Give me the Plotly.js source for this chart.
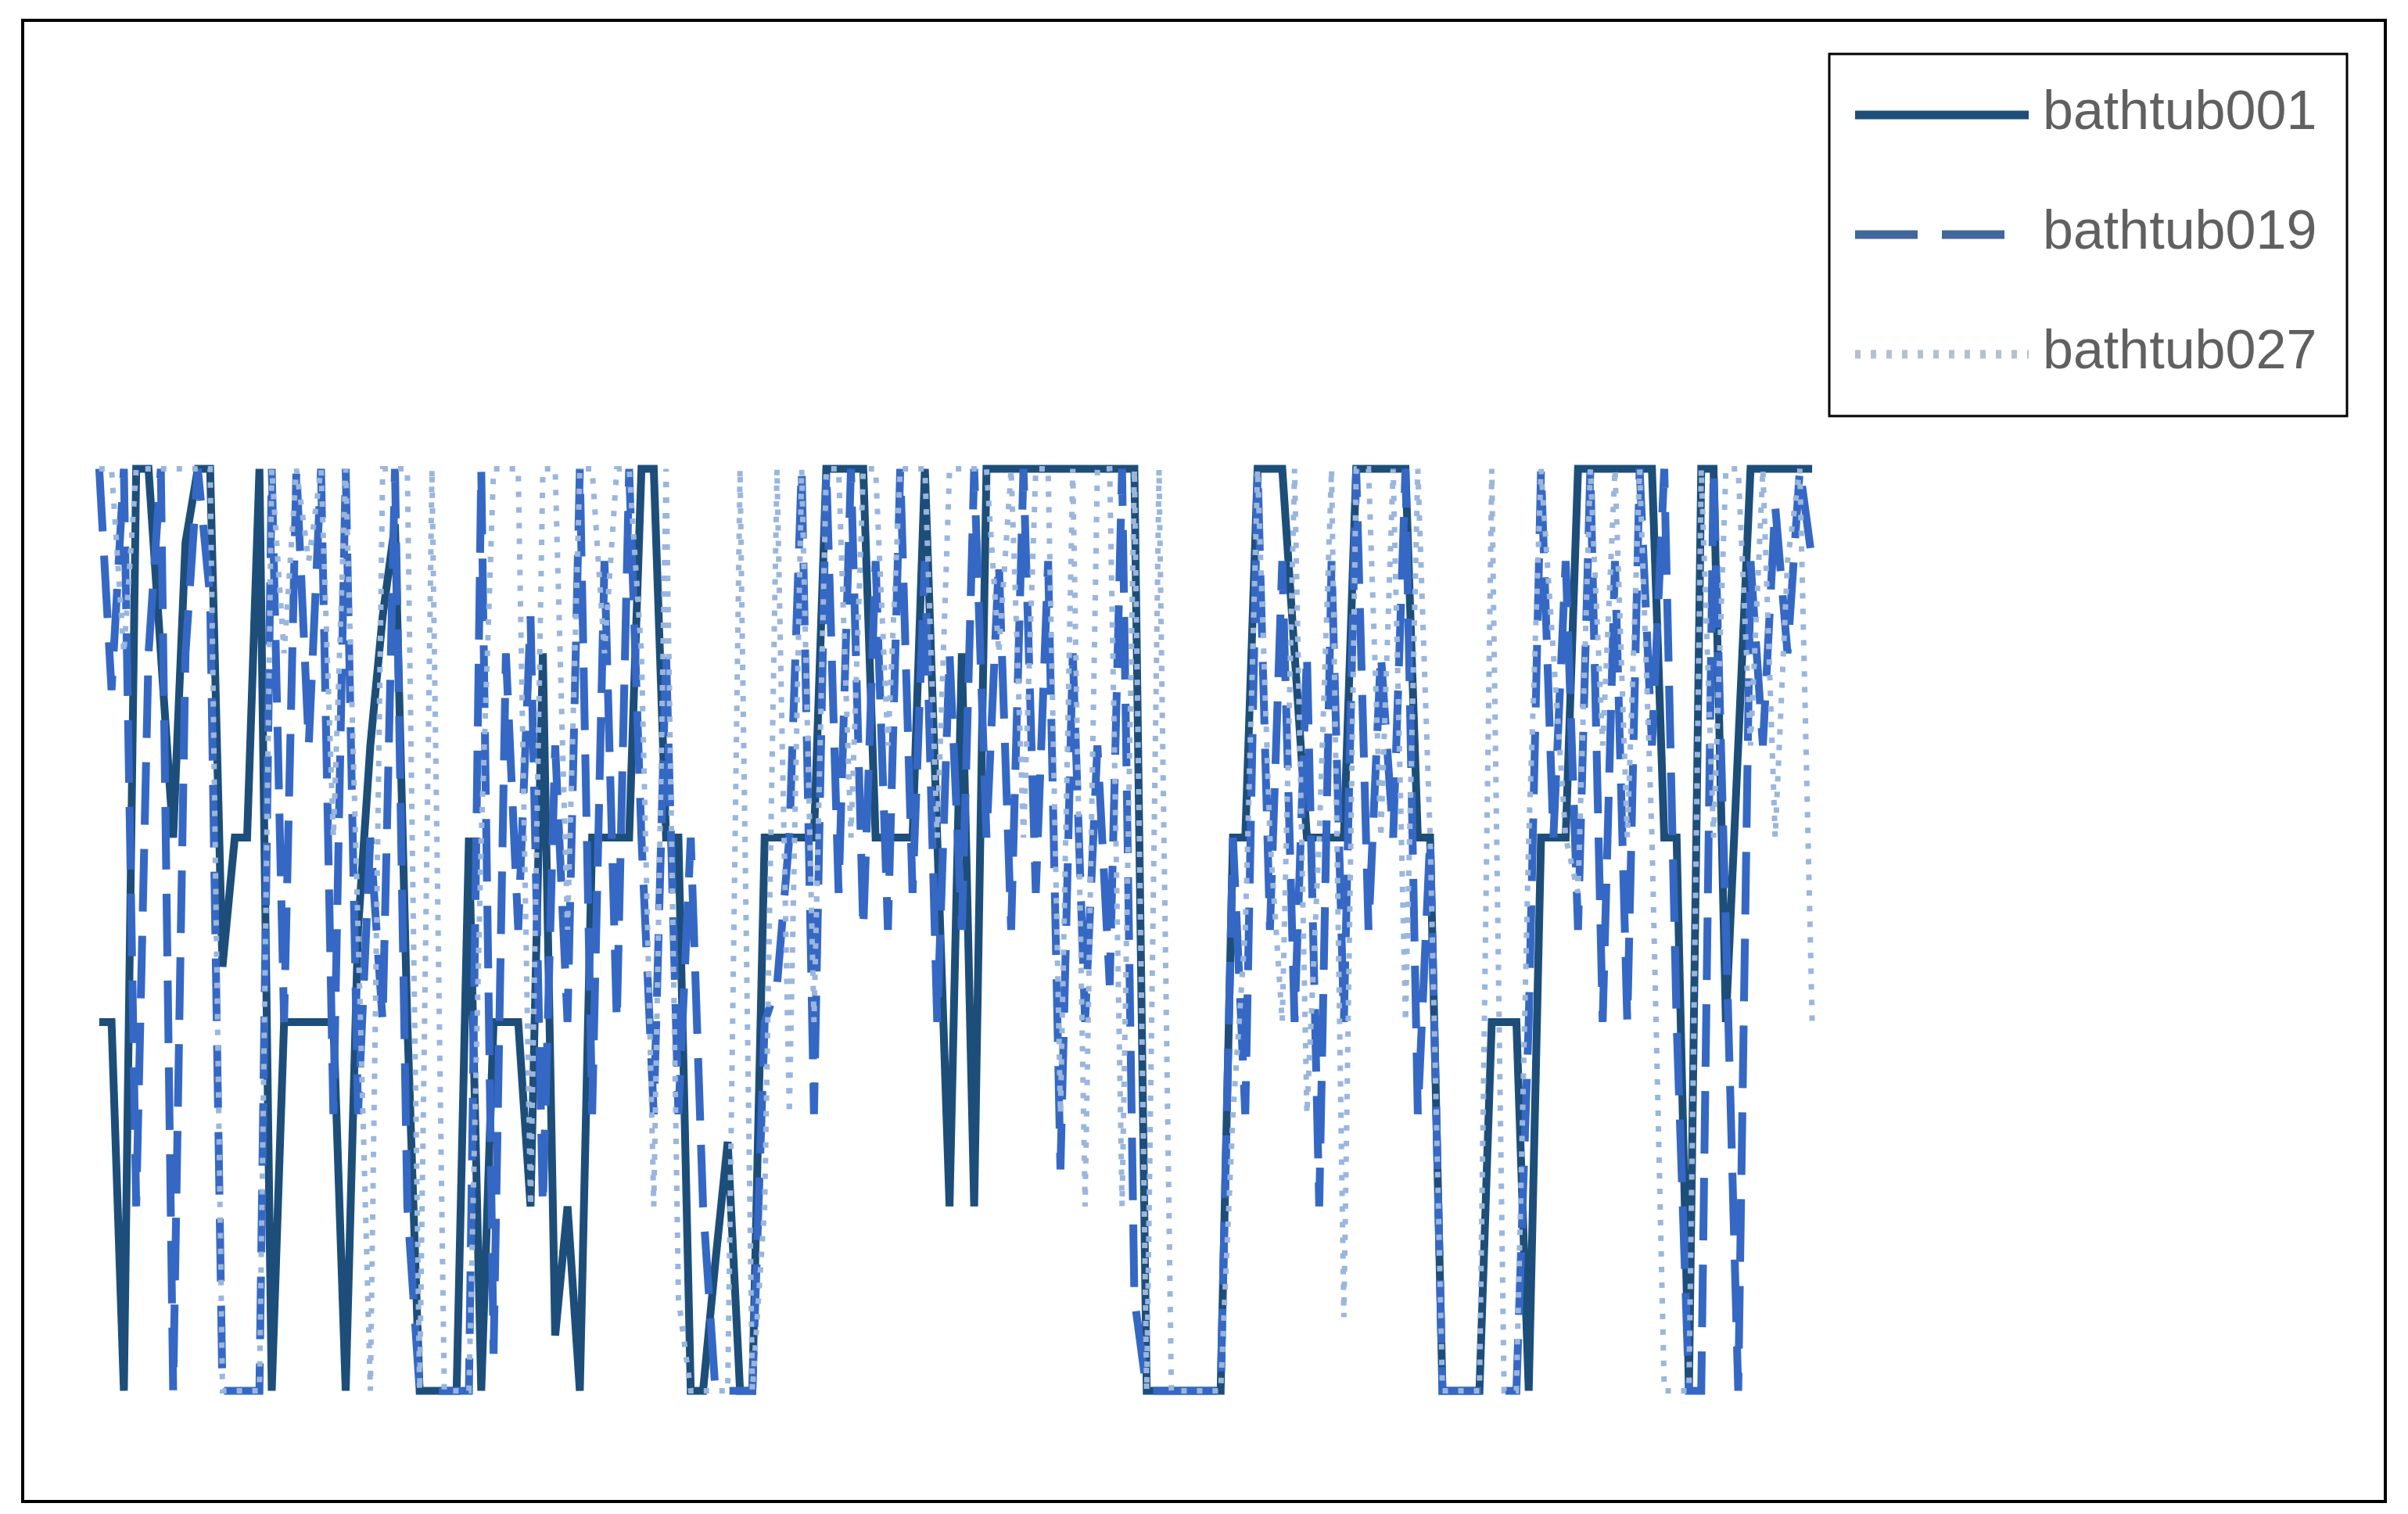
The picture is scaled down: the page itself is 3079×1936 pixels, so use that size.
<!DOCTYPE html>
<html>
<head>
<meta charset="utf-8">
<script src="https://cdn.plot.ly/plotly-3.0.1.min.js"></script>
<style>
  html, body { margin: 0; padding: 0; background: #fff; }
  #plot { width: 3079px; height: 1936px; }
</style>
</head>
<body>
<div id="plot"></div>
<script>
// series names
const names = ['bathtub001', 'bathtub019', 'bathtub027'];

// values, one per sample (140 samples)
const bathtub001 = [
  2, 2, 0, 5, 5, 4, 3, 4.6, 5, 5,
  2.3, 3, 3, 5, 0, 2, 2, 2, 2, 2,
  0, 2.5, 3.5, 4.2, 4.7, 2, 0, 0, 0, 0,
  3, 0, 2, 2, 2, 1, 4, 0.3, 1, 0,
  3, 3, 3, 3, 5, 5, 3, 3, 0, 0,
  0.7, 1.35, 0, 0, 3, 3, 3, 3, 3, 5,
  5, 5, 5, 3, 3, 3, 3, 5, 3, 1,
  4, 1, 5, 5, 5, 5, 5, 5, 5, 5,
  5, 5, 5, 5, 5, 0, 0, 0, 0, 0,
  0, 0, 3, 3, 5, 5, 5, 4, 3, 3,
  3, 3, 5, 5, 5, 5, 5, 3, 3, 0,
  0, 0, 0, 2, 2, 2, 0, 3, 3, 3,
  5, 5, 5, 5, 5, 5, 5, 3, 3, 0,
  5, 5, 2, 3.5, 5, 5, 5, 5, 5, 5
];

const bathtub019 = [
  5, 3.8, 5, 1, 4, 5, 0, 4, 5, 4.3,
  0, 0, 0, 0, 5, 2, 5, 3.5, 5, 1.5,
  5, 1.5, 3, 2, 5, 1, 0, 0, 0, 0,
  0, 5, 0.2, 4, 2.5, 4.2, 1, 3.5, 2, 5,
  1.5, 4.5, 2, 5, 3, 1.5, 4, 1.5, 3, 1,
  0, 0, 0, 0, 2, 2.2, 3, 5, 1.5, 5,
  2.7, 5, 2.5, 4.5, 2.5, 5, 2.7, 4.5, 2, 4,
  2.5, 5, 3, 4.5, 2.5, 5, 2.7, 4.5, 1.2, 4,
  2, 3.5, 2.2, 5, 0.5, 0, 0, 0, 0, 0,
  0, 0, 3, 1.5, 5, 2.5, 4.5, 2, 4, 1,
  4.5, 2, 5, 2.5, 4, 3, 5, 1.5, 3, 0,
  0, 0, 0, 0, 0, 0, 2, 5, 3, 4.5,
  2.5, 5, 2, 4.5, 2, 5, 3.5, 5, 2, 0,
  0, 5, 2.5, 0, 4.5, 3.5, 4.8, 4, 5, 4.5
];

const bathtub027 = [
  5, 5, 4, 5, 5, 5, 5, 5, 5, 5,
  0, 0, 0, 0, 5, 4, 5, 4.5, 5, 3,
  5, 2.5, 0, 5, 5, 5, 0, 5, 0, 0,
  0, 3, 5, 5, 5, 1, 5, 5, 2.5, 5,
  5, 4, 5, 5, 4, 1, 5, 0.5, 0, 0,
  0, 0, 5, 0, 1, 5, 1.5, 5, 2, 5,
  5, 3, 5, 5, 3.5, 5, 5, 5, 3, 5,
  5, 5, 5, 4, 5, 3, 5, 5, 1.5, 5,
  1, 5, 5, 1, 5, 0, 5, 0, 0, 0,
  0, 0, 1.5, 2.5, 5, 3, 2, 5, 1.5, 3,
  5, 0.4, 5, 5, 3, 5, 2, 5, 3, 0,
  0, 0, 0, 5, 0, 0, 3, 5, 4, 3,
  2.7, 5, 3.5, 5, 3, 5, 3, 0, 0, 0,
  5, 3, 5, 5, 3.5, 5, 3, 4.5, 5, 2
];

const series = [bathtub001, bathtub019, bathtub027];
const colors = ['#1d4e7a', '#3568c4', '#9ab6dd'];
const dashes = ['solid', '80px,31px', '7px,13px'];
const widths = [10, 10, 7];

// plot area margins (pixels)
const W = 3079, H = 1936;
const m = { l: 119, r: 754, t: 576, b: 134 };
const pw = W - m.l - m.r;
const ph = H - m.t - m.b;
const px = x => (x - m.l) / pw;
const py = y => (H - m.b - y) / ph;

const traces = series.map((s, i) => ({
  y: s,
  name: names[i],
  type: 'scatter',
  mode: 'lines',
  line: { color: colors[i], width: widths[i], dash: dashes[i] },
  showlegend: false
}));

// hand-built legend, to match the long line samples of the original
const legendRows = [147, 300, 453];
const legendColors = ['#1d4e7a', '#41679b', '#b4c0d0'];
const shapes = [
  // outer frame
  { type: 'rect', xref: 'paper', yref: 'paper',
    x0: px(29), x1: px(3050), y0: py(1920), y1: py(26),
    line: { color: '#000', width: 4 } },
  // legend box
  { type: 'rect', xref: 'paper', yref: 'paper',
    x0: px(2339), x1: px(3001), y0: py(532), y1: py(69),
    line: { color: '#000', width: 3 }, fillcolor: '#fff' }
];
const annotations = [];
legendRows.forEach((ly, i) => {
  shapes.push({
    type: 'line', xref: 'paper', yref: 'paper',
    x0: px(2372), x1: px(2594), y0: py(ly), y1: py(ly),
    line: { color: legendColors[i], width: 11, dash: dashes[i] }
  });
  annotations.push({
    xref: 'paper', yref: 'paper', x: px(2610), y: py(ly - 6),
    xanchor: 'left', yanchor: 'middle', showarrow: false,
    text: names[i],
    font: { family: 'Liberation Sans, Arial, sans-serif', size: 70, color: '#606060' }
  });
});

const layout = {
  width: W,
  height: H,
  margin: m,
  paper_bgcolor: '#fff',
  plot_bgcolor: '#fff',
  showlegend: false,
  xaxis: { range: [-0.5, 139.5], visible: false, showgrid: false, zeroline: false },
  yaxis: { range: [-0.1, 5.1], visible: false, showgrid: false, zeroline: false },
  shapes: shapes,
  annotations: annotations
};

Plotly.newPlot('plot', traces, layout, { staticPlot: true });
</script>
</body>
</html>
